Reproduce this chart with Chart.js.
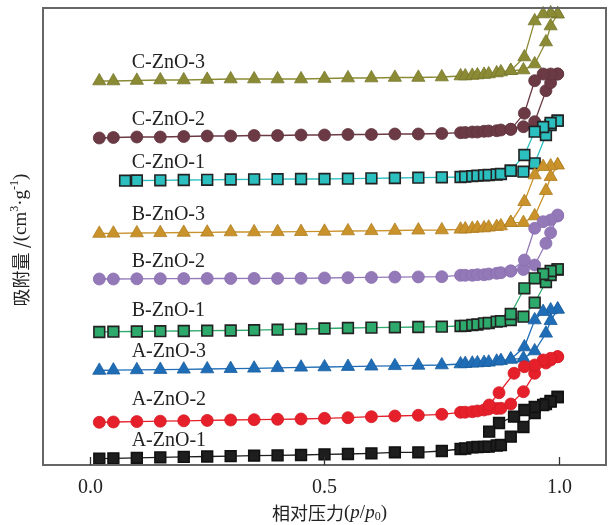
<!DOCTYPE html>
<html>
<head>
<meta charset="utf-8">
<script src="https://cdn.jsdelivr.net/npm/chart.js@4.4.1/dist/chart.umd.min.js"></script>
<style>
  body { margin: 0; background: #fff; }
  canvas { display: block; }
</style>
</head>
<body>
<canvas id="isoChart" width="608" height="525"></canvas>
<script>
// relative pressure p/p0
const pAds = [0.02, 0.05, 0.1, 0.15, 0.2, 0.25, 0.3, 0.35, 0.4, 0.45, 0.5, 0.55, 0.6, 0.65, 0.7, 0.75,
    0.79, 0.80, 0.815, 0.826, 0.84, 0.85, 0.867, 0.876, 0.897, 0.924, 0.948, 0.972, 0.982, 0.997];
const pAdsC1 = [0.075, 0.1, 0.15, 0.2, 0.25, 0.3, 0.35, 0.4, 0.45, 0.5, 0.55, 0.6, 0.65, 0.7, 0.75,
    0.79, 0.80, 0.815, 0.826, 0.84, 0.85, 0.867, 0.876, 0.897, 0.924, 0.948, 0.972, 0.982, 0.997];
const pDes = [0.997, 0.982, 0.966, 0.948, 0.926, 0.897];
const pDesA = [0.997, 0.982, 0.966, 0.948, 0.926, 0.904, 0.872, 0.851];

// adsorbed amount (stacked, arbitrary units)
const aZnO1Ads = [6.3, 6.7, 7.2, 7.7, 8.1, 8.5, 8.9, 9.3, 9.6, 10, 10.7, 11, 11.7, 12.7, 12.7, 14,
    16, 16.5, 17.7, 18, 18.2, 18.3, 19.5, 20, 28.3, 38, 52, 61, 64, 68];
const aZnO1Des = [68, 63.5, 60, 58, 55, 48.3, 42, 33.3];
const aZnO2Ads = [42.7, 43, 43.4, 43.8, 44.2, 44.6, 45, 45.3, 45.7, 46, 46.7, 47.3, 48.3, 49, 49.7, 50.7,
    52.7, 52.8, 53.3, 54, 55, 56, 56.5, 56.7, 61, 73.3, 91.7, 102, 105, 108.3];
const aZnO2Des = [108.3, 106.7, 105, 100, 98.3, 91.7, 72.3, 60];
const aZnO3Ads = [94.5, 94.8, 95.1, 95.4, 95.7, 96, 96.3, 96.7, 97.2, 97.7, 98, 98.4, 98.8, 99.2, 99.6, 100,
    101, 101.3, 101.7, 102, 102.3, 102.7, 103.7, 104.3, 105.7, 106.7, 114, 131.7, 144.3, 155.7];
const aZnO3Des = [155.7, 155, 153.3, 145, 118, 105.7];
const bZnO1Ads = [133, 133.3, 133.5, 133.8, 134, 134.3, 134.5, 134.8, 135.3, 136, 136.5, 137, 137.4, 137.7, 138, 138.3,
    139, 139.2, 140, 140.5, 141.7, 142, 143.3, 143.8, 145, 148.3, 162.3, 183, 190, 195.5];
const bZnO1Des = [195.7, 194, 191, 186.7, 176.7, 151];
const bZnO2Ads = [186, 186, 186.2, 186.3, 186.4, 186.5, 186.5, 186.6, 186.6, 186.7, 187, 187.3, 187.6, 187.9, 188.1, 188.3,
    189.7, 189.7, 189.7, 190.3, 190.3, 191, 191.7, 192.3, 194, 195.5, 200, 221.7, 232.3, 249];
const bZnO2Des = [250, 245, 243.3, 236.7, 205, 194];
const bZnO3Ads = [231.5, 231.7, 232, 232.2, 232.5, 232.7, 233, 233, 233.2, 233.3, 233.6, 234, 234.2, 234.5, 234.8, 235,
    235.7, 236, 236.3, 237, 237, 237.7, 238.3, 239, 242.3, 242.3, 249, 274.3, 288.3, 300];
const bZnO3Des = [300, 299, 298.3, 290, 263.3, 242.3];
const cZnO1Ads = [284.3, 284.5, 284.7, 285, 285.2, 285.5, 285.7, 285.8, 286, 286, 286.3, 286.7, 287, 287.3, 287.7,
    288, 288.3, 288.8, 289.3, 289.7, 290, 290.5, 291, 294.3, 293.3, 301.7, 330, 340, 344.3];
const cZnO1Des = [344.3, 342, 338, 333.3, 310, 294.3];
const cZnO2Ads = [327, 327.5, 328, 328, 328.5, 329, 329, 329.5, 329.5, 330, 330, 330.5, 330.5, 331, 331, 331.5,
    332.3, 332.5, 333, 333, 333.7, 334, 334.3, 335, 335.7, 338.3, 343.3, 374.3, 382.3, 391];
const cZnO2Des = [391, 391, 391, 384.3, 351.7, 335.7];
const cZnO3Ads = [384, 384, 384.5, 385, 385, 385.5, 386, 386, 386, 386, 386.5, 387, 387, 387.5, 387.5, 388,
    389, 389, 389.5, 390, 390.5, 391, 392, 393, 394.3, 395, 401, 423, 439, 451];
const cZnO3Des = [451, 452, 451, 444, 408, 394.3];

const sampleNames = ['A-ZnO-1', 'A-ZnO-2', 'A-ZnO-3', 'B-ZnO-1', 'B-ZnO-2', 'B-ZnO-3', 'C-ZnO-1', 'C-ZnO-2', 'C-ZnO-3'];
const xTicks = [0, 0.5, 1.0];

function loop(px, py, dx, dy) {
    const pts = [];
    px.forEach((p, i) => pts.push({ x: p, y: py[i] }));
    dx.forEach((p, i) => pts.push({ x: p, y: dy[i] }));
    return pts;
}

function series(name, pts, color, shape, edge) {
    const isRect = shape === 'rect';
    const isTri = shape === 'triangle';
    return {
        label: name,
        data: pts,
        showLine: true,
        clip: false,
        borderColor: color,
        borderWidth: 1.3,
        backgroundColor: color,
        pointStyle: shape,
        pointRadius: isRect ? 7.6 : (isTri ? 7.6 : 6),
        pointBackgroundColor: color,
        pointBorderColor: edge,
        pointBorderWidth: isRect ? 1.6 : 0.8,
        tension: 0
    };
}

const datasets = [
    series(sampleNames[0], loop(pAds, aZnO1Ads, pDesA, aZnO1Des), '#1e1e1e', 'rect', '#111'),
    series(sampleNames[1], loop(pAds, aZnO2Ads, pDesA, aZnO2Des), '#e6202a', 'circle', '#d41a24'),
    series(sampleNames[2], loop(pAds, aZnO3Ads, pDes, aZnO3Des), '#1f6db6', 'triangle', '#1a5f9f'),
    series(sampleNames[3], loop(pAds, bZnO1Ads, pDes, bZnO1Des), '#2daa6b', 'rect', '#222'),
    series(sampleNames[4], loop(pAds, bZnO2Ads, pDes, bZnO2Des), '#9479b9', 'circle', '#8a6fb0'),
    series(sampleNames[5], loop(pAds, bZnO3Ads, pDes, bZnO3Des), '#c9922b', 'triangle', '#b07f22'),
    series(sampleNames[6], loop(pAdsC1, cZnO1Ads, pDes, cZnO1Des), '#2bbfc0', 'rect', '#222'),
    series(sampleNames[7], loop(pAds, cZnO2Ads, pDes, cZnO2Des), '#6b3a44', 'circle', '#60333d'),
    series(sampleNames[8], loop(pAds, cZnO3Ads, pDes, cZnO3Des), '#8b8b35', 'triangle', '#77772c')
];

// where the sample names sit (data coords)
const labelX = 0.089;
const labelY = [24, 65, 113, 154, 203, 250, 302, 345, 402];

const decorPlugin = {
    id: 'decor',
    afterDraw(chart) {
        const ctx = chart.ctx;
        const a = chart.chartArea;
        const xs = chart.scales.x;
        const ys = chart.scales.y;
        ctx.save();

        // sample names
        ctx.fillStyle = '#222';
        ctx.font = '20px "Liberation Serif", "Times New Roman", serif';
        ctx.textAlign = 'left';
        ctx.textBaseline = 'middle';
        sampleNames.forEach((n, i) => {
            ctx.fillText(n, xs.getPixelForValue(labelX), ys.getPixelForValue(labelY[i]));
        });

        // frame
        ctx.strokeStyle = '#666';
        ctx.lineWidth = 2;
        ctx.strokeRect(a.left, a.top, a.right - a.left, a.bottom - a.top);

        // inward ticks + labels
        ctx.strokeStyle = '#333';
        ctx.lineWidth = 1.3;
        ctx.fillStyle = '#222';
        ctx.textAlign = 'center';
        ctx.textBaseline = 'middle';
        xTicks.forEach(t => {
            const px = Math.round(xs.getPixelForValue(t)) + 0.5;
            ctx.beginPath();
            ctx.moveTo(px, a.bottom);
            ctx.lineTo(px, a.bottom - 8);
            ctx.stroke();
            ctx.fillText(t.toFixed(1), px, a.bottom + 23);
        });

        // x title: 相对压力(p/p0)
        const cjk = '18px "Noto Sans CJK SC", sans-serif';
        const serif = '19px "Liberation Serif", serif';
        const ital = 'italic 19px "Liberation Serif", serif';
        const sub = '12px "Liberation Serif", serif';
        const parts = [
            [cjk, '相对压力', 0], [serif, '(', 0], [ital, 'p', 0], [serif, '/', 0],
            [ital, 'p', 0], [sub, '0', 4], [serif, ')', 0]
        ];
        let w = 0;
        parts.forEach(p => { ctx.font = p[0]; w += ctx.measureText(p[1]).width; });
        let x = (a.left + a.right) / 2 - w / 2 + 5;
        const ty = 513;
        ctx.textAlign = 'left';
        parts.forEach(p => {
            ctx.font = p[0];
            ctx.fillText(p[1], x, ty + p[2]);
            x += ctx.measureText(p[1]).width;
        });

        // y title
        ctx.translate(21, 240);
        ctx.rotate(-Math.PI / 2);
        const yParts = [
            [cjk, '吸附量 /', 0], [serif, '(cm', 0], ['12px "Liberation Serif", serif', '3', -6],
            [serif, '·g', 0], ['12px "Liberation Serif", serif', '-1', -6], [serif, ')', 0]
        ];
        let yw = 0;
        yParts.forEach(p => { ctx.font = p[0]; yw += ctx.measureText(p[1]).width; });
        let yx = -yw / 2;
        yParts.forEach(p => {
            ctx.font = p[0];
            ctx.fillText(p[1], yx, p[2]);
            yx += ctx.measureText(p[1]).width;
        });
        ctx.restore();
    }
};

const ctx = document.getElementById('isoChart').getContext('2d');
const isoChart = new Chart(ctx, {
    type: 'scatter',
    data: { datasets: datasets },
    options: {
        responsive: false,
        animation: false,
        layout: { autoPadding: false, padding: { left: 43, top: 8, right: 2, bottom: 60 } },
        scales: {
            x: { type: 'linear', display: false, min: -0.1, max: 1.1 },
            y: { type: 'linear', display: false, min: 0, max: 457 }
        },
        plugins: {
            legend: { display: false },
            tooltip: { enabled: false }
        }
    },
    plugins: [decorPlugin]
});
</script>
</body>
</html>
